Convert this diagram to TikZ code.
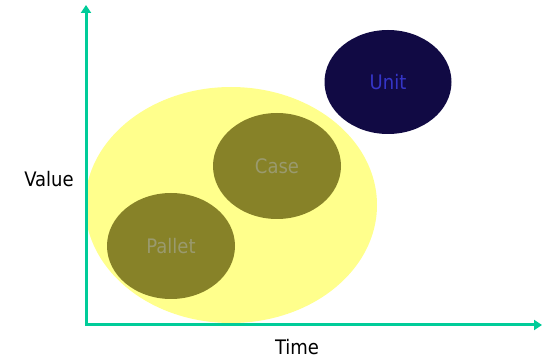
\documentclass[tikz,border=0pt]{standalone}
\usepackage{fontspec}
\setmainfont{DejaVu Sans Condensed}
\usetikzlibrary{arrows.meta,shapes.geometric}
\definecolor{axisgreen}{HTML}{00CC99}
\definecolor{paleyellow}{HTML}{FFFF8C}
\definecolor{olive}{HTML}{878228}
\definecolor{olivetext}{HTML}{9A9A6E}
\definecolor{navy}{HTML}{110A44}
\definecolor{unitblue}{HTML}{3535C8}
\tikzset{
  blob/.style={ellipse, inner sep=0pt, font=\fontsize{20}{24}\selectfont},
  axislabel/.style={font=\fontsize{20}{24}\selectfont, text=black},
  axisline/.style={draw=axisgreen, line width=3pt, line join=miter,
    arrows={Triangle[length=8pt,width=10pt]-Triangle[length=8pt,width=10pt]}}
}
\begin{document}
\begin{tikzpicture}[x=1pt,y=-1pt]
  \useasboundingbox (0,0) rectangle (544,358);
  % overall region
  \node[blob, fill=paleyellow, minimum width=292, minimum height=236] (all) at (231,205) {};
  % product levels
  \node[blob, fill=navy, text=unitblue, minimum width=127, minimum height=104] (unit) at (388,82) {Unit};
  \node[blob, fill=olive, text=olivetext, minimum width=128, minimum height=106] (case) at (277,166) {Case};
  \node[blob, fill=olive, text=olivetext, minimum width=128, minimum height=106] (pallet) at (171,246) {Pallet};
  % axes
  \coordinate (origin) at (86,325);
  \coordinate (ytip) at (86,5);
  \coordinate (xtip) at (542,325);
  \draw[axisline] (ytip) -- (origin) -- (xtip);
  \node[axislabel] (value) at (49,179) {Value};
  \node[axislabel] (time) at (297,347) {Time};
\end{tikzpicture}
\end{document}
